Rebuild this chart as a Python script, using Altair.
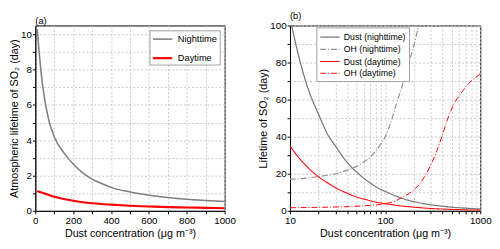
import altair as alt
import pandas as pd

FONT = "Liberation Sans"

# ---------------- Panel (a) data ----------------
a_night_x = [10, 20, 30, 40, 50, 60, 70, 80, 90, 100, 150, 200, 250, 300, 350, 400, 500, 600, 700, 800, 900, 1000]
a_night_y = [10.3, 9.0, 7.9, 7.0, 6.3, 5.7, 5.2, 4.8, 4.5, 4.2, 3.3, 2.65, 2.15, 1.8, 1.55, 1.33, 1.07, 0.89, 0.76, 0.66, 0.59, 0.53]
a_day_x = [10, 50, 100, 150, 200, 250, 300, 400, 500, 600, 700, 800, 900, 1000]
a_day_y = [1.12, 0.98, 0.80, 0.67, 0.57, 0.49, 0.43, 0.35, 0.29, 0.25, 0.21, 0.19, 0.17, 0.15]
a_series = ["Nighttime", "Daytime"]
a_colors = ["#7f7f7f", "#ff0000"]
a_widths = [1.6, 2.2]

# ---------------- Panel (b) data ----------------
b_dn_x = [10, 12, 15, 20, 25, 30, 40, 50, 60, 70, 80, 100, 130, 150, 200, 300, 400, 500, 700, 1000]
b_dn_y = [104, 86, 68, 52, 41, 35, 26, 21, 17.5, 15, 13, 10.5, 8, 6.8, 5, 3.3, 2.5, 2.0, 1.45, 1.0]
b_on_x = [10, 15, 20, 30, 40, 50, 60, 70, 80, 90, 100, 110, 120, 130, 140, 150, 160, 180, 200, 225, 250]
b_on_y = [17, 17.7, 18.5, 20, 22, 24, 26.5, 29, 32.5, 36, 40, 45, 51, 57, 62, 67, 72, 81, 89, 100, 110]
b_dd_x = [10, 12, 15, 20, 25, 30, 40, 50, 60, 70, 80, 100, 150, 200, 300, 500, 700, 1000]
b_dd_y = [35, 29.5, 24, 18.3, 15, 12.5, 9.5, 7.5, 6.3, 5.4, 4.7, 3.9, 2.6, 2.0, 1.3, 0.8, 0.55, 0.4]
b_od_x = [10, 20, 30, 50, 70, 100, 130, 150, 180, 200, 230, 260, 300, 350, 400, 450, 500, 570, 650, 720, 800, 900, 1000]
b_od_y = [1.7, 1.9, 2.1, 2.5, 3.0, 3.8, 5.5, 7.2, 9.5, 11.3, 14.5, 18.5, 24.5, 32.5, 41, 49, 55, 60.5, 64.5, 67.5, 70, 72, 74]
b_series = ["Dust (nighttime)", "OH (nighttime)", "Dust (daytime)", "OH (daytime)"]
b_colors = ["#7a7a7a", "#8f8f8f", "#ff0000", "#ff0000"]
b_dashes = [[1, 0], [6, 2, 1, 2], [1, 0], [6, 2, 1, 2]]
b_widths = [1.3, 1.0, 1.4, 1.2]

x_title = "Dust concentration (μg m⁻³)"

df_a = pd.concat([
    pd.DataFrame({"x": a_night_x, "y": a_night_y, "s": a_series[0]}),
    pd.DataFrame({"x": a_day_x, "y": a_day_y, "s": a_series[1]}),
])
df_b = pd.concat([
    pd.DataFrame({"x": b_dn_x, "y": b_dn_y, "s": b_series[0]}),
    pd.DataFrame({"x": b_on_x, "y": b_on_y, "s": b_series[1]}),
    pd.DataFrame({"x": b_dd_x, "y": b_dd_y, "s": b_series[2]}),
    pd.DataFrame({"x": b_od_x, "y": b_od_y, "s": b_series[3]}),
])

H = 190


def ax(**kw):
    base = dict(labelOverlap=False, labelFlush=False, tickSize=3, grid=True,
                gridColor="#c8c8c8", gridDash=[2, 2], gridWidth=1, format="d")
    base.update(kw)
    return alt.Axis(**base)


SYM = "M-1,0L2.3,0"
DASH_EXPR = "indexof(datum.label, 'OH') == 0 ? [6, 2, 1, 2] : []"
COLOR_EXPR = ("indexof(datum.label, 'daytime') >= 0 ? '%s' : '%s'"
              % (b_colors[2], b_colors[0]))

leg_a = alt.Legend(title=None, orient="none", legendX=117, legendY=5,
                   strokeColor="#a0a0a0", fillColor="white", padding=2,
                   symbolType=SYM, symbolSize=144, symbolStrokeWidth=2,
                   labelFont=FONT, labelFontSize=9.5, labelColor="black",
                   rowPadding=7, labelOffset=12)

panel_a = alt.Chart(df_a).mark_line(interpolate="monotone", clip=True).encode(
    x=alt.X("x:Q", scale=alt.Scale(domain=[0, 1000], nice=False, zero=False),
            axis=ax(values=list(range(0, 1001, 100)),
                    labelExpr="datum.value % 200 == 0 ? datum.label : ''",
                    title=x_title, labelPadding=2, titlePadding=2)),
    y=alt.Y("y:Q", scale=alt.Scale(domain=[0, 10.5], nice=False),
            axis=ax(values=list(range(0, 11)),
                    labelExpr="datum.value % 2 == 0 ? datum.label : ''",
                    title="Atmospheric lifetime of SO₂ (day)", labelPadding=1, titlePadding=1)),
    color=alt.Color("s:N", scale=alt.Scale(domain=a_series, range=a_colors), legend=leg_a,
                    sort=a_series),
    strokeWidth=alt.StrokeWidth("s:N", scale=alt.Scale(domain=a_series, range=a_widths),
                                legend=None),
    detail="s:N",
).properties(
    width=194, height=H,
    title=alt.TitleParams("(a)", anchor="start", frame="group", fontSize=9.5,
                          font=FONT, fontWeight="normal", offset=0, color="black"),
)


def build(mode):
    kw = dict(title=None, orient="none", legendX=27, legendY=2,
              strokeColor="#a0a0a0", fillColor="white", padding=3,
              symbolType=SYM, symbolSize=144, symbolStrokeWidth=1.6,
              labelFont=FONT, labelFontSize=9, labelColor="black",
              rowPadding=0.5, labelOffset=11)
    if mode == 0:
        kw["encode"] = {"symbols": {"strokeDash": {"value": {"expr": DASH_EXPR}},
                                    "stroke": {"value": {"expr": COLOR_EXPR}}}}
    elif mode == 1:
        kw["symbolDash"] = {"expr": DASH_EXPR}
    leg_b = alt.Legend(**kw)

    panel_b = alt.Chart(df_b).mark_line(interpolate="monotone", clip=True).encode(
        x=alt.X("x:Q", scale=alt.Scale(type="log", domain=[10, 1000], nice=False),
                axis=ax(values=[10, 20, 30, 40, 50, 60, 70, 80, 90, 100, 200, 300, 400, 500,
                                600, 700, 800, 900, 1000],
                        labelExpr="(datum.value == 10 || datum.value == 100 || datum.value == 1000) ? format(datum.value, 'd') : ''",
                        title=x_title, labelPadding=2, titlePadding=2)),
        y=alt.Y("y:Q", scale=alt.Scale(domain=[0, 100], nice=False),
                axis=ax(values=list(range(0, 101, 10)),
                        labelExpr="datum.value % 20 == 0 ? datum.label : ''",
                        title="Lifetime of SO₂ (day)", labelPadding=1, titlePadding=1)),
        color=alt.Color("s:N", scale=alt.Scale(domain=b_series, range=b_colors), legend=leg_b,
                        sort=b_series),
        strokeDash=alt.StrokeDash("s:N", scale=alt.Scale(domain=b_series, range=b_dashes),
                                  legend=None),
        strokeWidth=alt.StrokeWidth("s:N", scale=alt.Scale(domain=b_series, range=b_widths),
                                    legend=None),
        detail="s:N",
    ).properties(
        width=195, height=H,
        title=alt.TitleParams("(b)", anchor="start", frame="group", fontSize=9.5,
                              font=FONT, fontWeight="normal", offset=0, color="black"),
    )

    ch = alt.hconcat(panel_a, panel_b, spacing=21).resolve_scale(
        color="independent", strokeDash="independent", strokeWidth="independent",
        x="independent", y="independent",
    ).resolve_legend(color="independent").properties(
        padding={"left": 0, "top": 0, "right": 0, "bottom": 0},
    ).configure_view(
        stroke="black", strokeWidth=1,
    ).configure_axis(
        domainColor="black", tickColor="black", labelColor="black", titleColor="black",
        labelFont=FONT, titleFont=FONT, labelFontSize=10, titleFontSize=11,
        titleFontWeight="normal", domainWidth=1,
    )
    ch.to_dict()  # validate
    return ch


chart = None
for m in (0, 1, 2):
    try:
        chart = build(m)
        break
    except Exception:
        chart = None

chart.save("out.html", embed_options={"renderer": "svg", "actions": False})
